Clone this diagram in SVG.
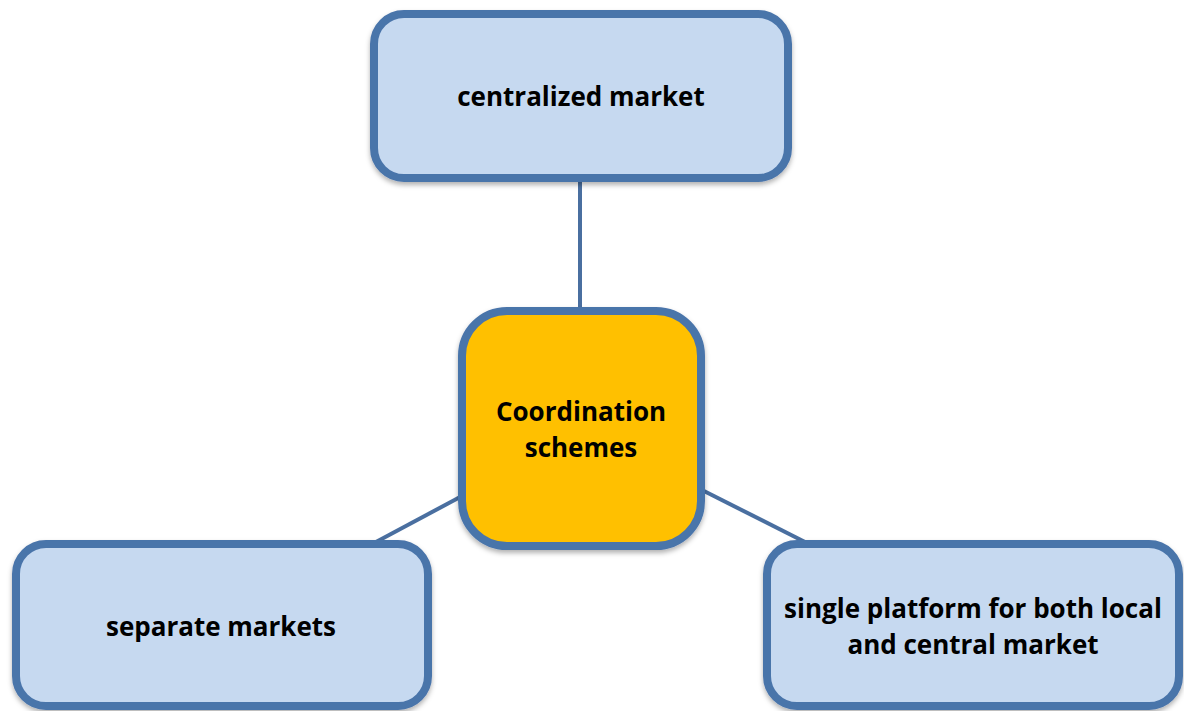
<svg xmlns="http://www.w3.org/2000/svg" width="1184" height="711" viewBox="0 0 1184 711">
<defs>
<style>
.box{stroke:#4a74aa;stroke-width:8;filter:url(#sh)}
.blue{fill:#c6d9f0}
.orange{fill:#ffc000}
.conn line{stroke:#4a6fa0;stroke-width:4}
text{font-family:"Open Sans","Liberation Sans",sans-serif;font-weight:bold;font-size:26px;fill:#000;text-anchor:middle}
</style>
<filter id="sh" x="-10%" y="-10%" width="120%" height="125%">
<feDropShadow dx="0" dy="3" stdDeviation="2.5" flood-color="#000" flood-opacity="0.3"/>
</filter>
</defs>
<rect width="1184" height="711" fill="#fff"/>
<g id="connectors" class="conn">
<line x1="580" y1="180" x2="580" y2="310"/>
<line x1="376" y1="542" x2="462" y2="496"/>
<line x1="700" y1="489" x2="805" y2="542"/>
</g>
<g id="node-centralized">
<rect class="box blue" x="374" y="14" width="414" height="164" rx="30"/>
<text x="581" y="106">centralized market</text>
</g>
<g id="node-coordination">
<rect class="box orange" x="462" y="311" width="239" height="235" rx="45"/>
<text x="581" y="421">Coordination</text>
<text x="581" y="457">schemes</text>
</g>
<g id="node-separate">
<rect class="box blue" x="16" y="544" width="412" height="162" rx="30"/>
<text x="221" y="636">separate markets</text>
</g>
<g id="node-single">
<rect class="box blue" x="767" y="544" width="412" height="162" rx="30"/>
<text x="973" y="618">single platform for both local</text>
<text x="973" y="654">and central market</text>
</g>
</svg>
